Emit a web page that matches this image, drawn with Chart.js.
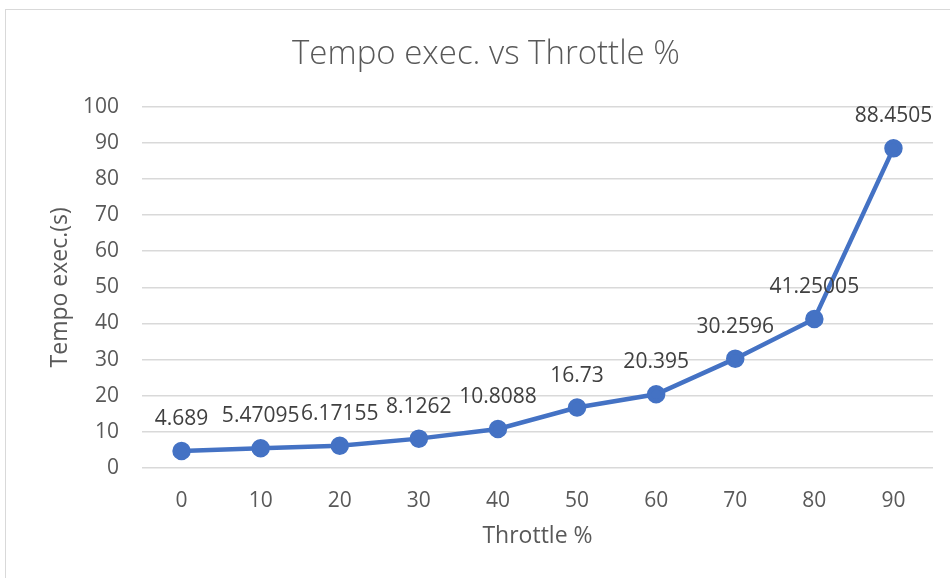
<!DOCTYPE html>
<html lang="en">
	<head>
		<meta charset="UTF-8" />
		<title>Tempo exec. vs Throttle %</title>
		<script src="https://cdn.jsdelivr.net/npm/chart.js@4"></script>
		<style>
			body { margin: 0; overflow: hidden; background: #fff; }
			#frame { position: absolute; left: 5px; top: 9px; width: 960px; height: 600px; border: 1px solid #d9d9d9; }
			#wrap { position: absolute; left: 0; top: 0; width: 950px; height: 569px; }
		</style>
	</head>
	<body>
		<div id="frame"><div id="wrap"><canvas id="myChart"></canvas></div></div>

		<script>
			const throttle = ["0", "10", "20", "30", "40", "50", "60", "70", "80", "90"];
			const tempoExec = [4.689, 5.47095, 6.17155, 8.1262, 10.8088, 16.73, 20.395, 30.2596, 41.25005, 88.4505];
			const yTicks = { min: 0, max: 100, step: 10 };

			const fontFamily = "'Open Sans', 'Noto Sans', sans-serif";

			// value labels above each point
			const pointLabels = {
				id: "pointLabels",
				afterDatasetsDraw(chart) {
					const { ctx } = chart;
					const meta = chart.getDatasetMeta(0);
					ctx.save();
					ctx.font = "21px " + fontFamily;
					ctx.fillStyle = "#404040";
					ctx.textAlign = "center";
					ctx.textBaseline = "middle";
					meta.data.forEach((pt, i) => {
						ctx.fillText(String(tempoExec[i]), pt.x, pt.y - 32);
					});
					ctx.restore();
				},
			};

			const ctx = document.getElementById("myChart").getContext("2d");
			new Chart(ctx, {
				type: "line",
				data: {
					labels: throttle,
					datasets: [
						{
							label: "Tempo exec.",
							data: tempoExec,
							borderColor: "#4472C4",
							backgroundColor: "#4472C4",
							borderWidth: 4.5,
							pointRadius: 7,
							pointHoverRadius: 7,
							tension: 0,
						},
					],
				},
				plugins: [pointLabels],
				options: {
					responsive: true,
					maintainAspectRatio: false,
					animation: false,
					layout: { padding: { left: 33, right: 23, top: 0, bottom: 0 } },
					plugins: {
						legend: { display: false },
						tooltip: { enabled: false },
						title: {
							display: true,
							text: "Tempo exec. vs Throttle %",
							color: "#595959",
							font: { family: fontFamily, size: 33, weight: "300" },
							padding: { top: 25, bottom: 32 },
						},
					},
					scales: {
						x: {
							offset: true,
							grid: { display: false },
							border: { display: false },
							ticks: { color: "#595959", font: { family: fontFamily, size: 21 }, padding: 12 },
							title: {
								display: true,
								text: "Throttle %",
								color: "#595959",
								font: { family: fontFamily, size: 23 },
								padding: { top: 0, bottom: 29 },
							},
							afterFit(scale) { scale.height = 111; },
						},
						y: {
							min: yTicks.min,
							max: yTicks.max,
							grid: { color: "#d9d9d9", lineWidth: 1.5, drawTicks: false },
							border: { display: false },
							ticks: { stepSize: yTicks.step, color: "#595959", font: { family: fontFamily, size: 21 }, padding: 23 },
							title: {
								display: true,
								text: "Tempo exec.(s)",
								color: "#595959",
								font: { family: fontFamily, size: 23 },
								padding: { top: 8, bottom: 0 },
							},
							afterFit(scale) { scale.width = 103; },
						},
					},
				},
			});
		</script>
	</body>
</html>
